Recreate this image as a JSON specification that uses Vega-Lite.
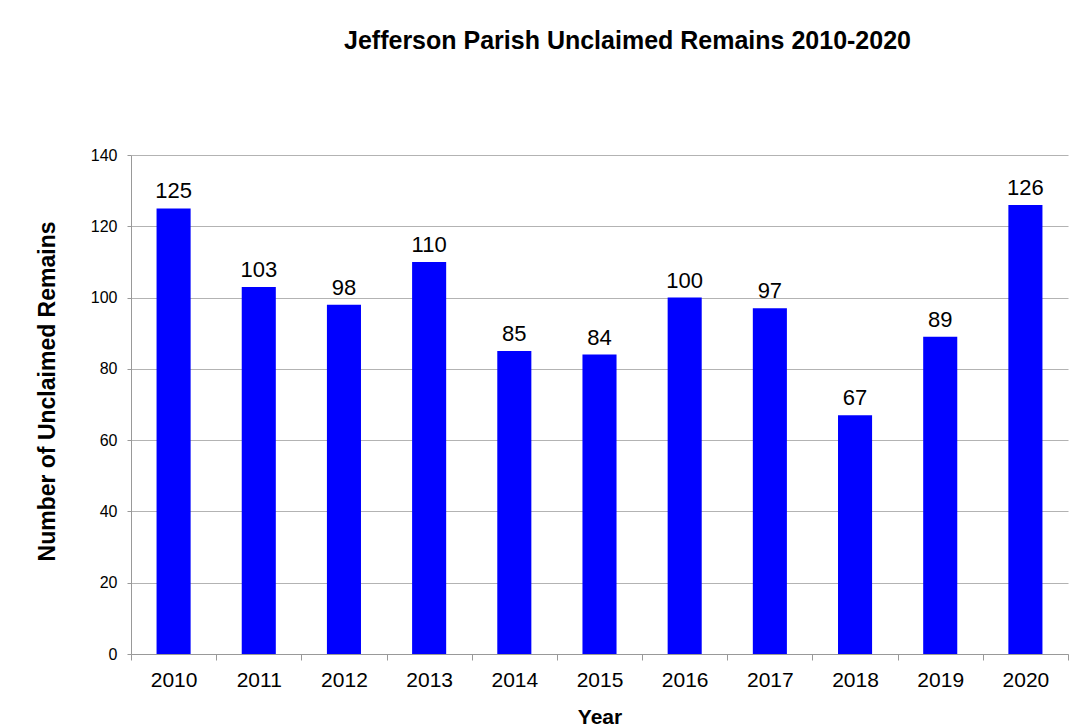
{
  "$schema": "https://vega.github.io/schema/vega-lite/v6.json",
  "autosize": "none",
  "width": 937,
  "height": 499,
  "padding": {"left": 131, "top": 155, "right": 13, "bottom": 74},
  "background": "white",
  "title": {
    "text": "Jefferson Parish Unclaimed Remains 2010-2020",
    "font": "Liberation Sans",
    "fontSize": 25,
    "fontWeight": "bold",
    "color": "black",
    "anchor": "middle",
    "baseline": "alphabetic",
    "dx": 28,
    "offset": 73
  },
  "data": {
    "values": [
      {"year": "2010", "count": 125},
      {"year": "2011", "count": 103},
      {"year": "2012", "count": 98},
      {"year": "2013", "count": 110},
      {"year": "2014", "count": 85},
      {"year": "2015", "count": 84},
      {"year": "2016", "count": 100},
      {"year": "2017", "count": 97},
      {"year": "2018", "count": 67},
      {"year": "2019", "count": 89},
      {"year": "2020", "count": 126}
    ]
  },
  "encoding": {
    "x": {
      "field": "year",
      "type": "ordinal",
      "scale": {"paddingInner": 0, "paddingOuter": 0},
      "axis": {
        "title": "Year",
        "labelAngle": 0,
        "tickBand": "extent",
        "tickSize": 6,
        "tickColor": "#999999",
        "domainColor": "#999999",
        "labelFont": "Liberation Sans",
        "labelFontSize": 21,
        "labelColor": "black",
        "labelPadding": 9,
        "titleFont": "Liberation Sans",
        "titleFontSize": 21,
        "titleFontWeight": "bold",
        "titleColor": "black",
        "titlePadding": 16
      }
    },
    "y": {
      "field": "count",
      "type": "quantitative",
      "scale": {"domain": [0, 140], "nice": false},
      "axis": {
        "title": "Number of Unclaimed Remains",
        "values": [0, 20, 40, 60, 80, 100, 120, 140],
        "grid": true,
        "gridColor": "#b3b3b3",
        "tickSize": 4,
        "tickColor": "#999999",
        "domainColor": "#999999",
        "labelFont": "Liberation Sans",
        "labelFontSize": 16,
        "labelColor": "black",
        "labelPadding": 10,
        "titleFont": "Liberation Sans",
        "titleFontSize": 23,
        "titleFontWeight": "bold",
        "titleColor": "black",
        "titlePadding": 31,
        "titleY": 236
      }
    }
  },
  "layer": [
    {
      "mark": {"type": "bar", "color": "#0000ff", "width": {"band": 0.4}}
    },
    {
      "mark": {"type": "text", "baseline": "bottom", "dy": -5, "font": "Liberation Sans", "fontSize": 22, "color": "black"},
      "encoding": {"text": {"field": "count", "type": "quantitative"}}
    }
  ],
  "config": {"view": {"stroke": null}}
}
